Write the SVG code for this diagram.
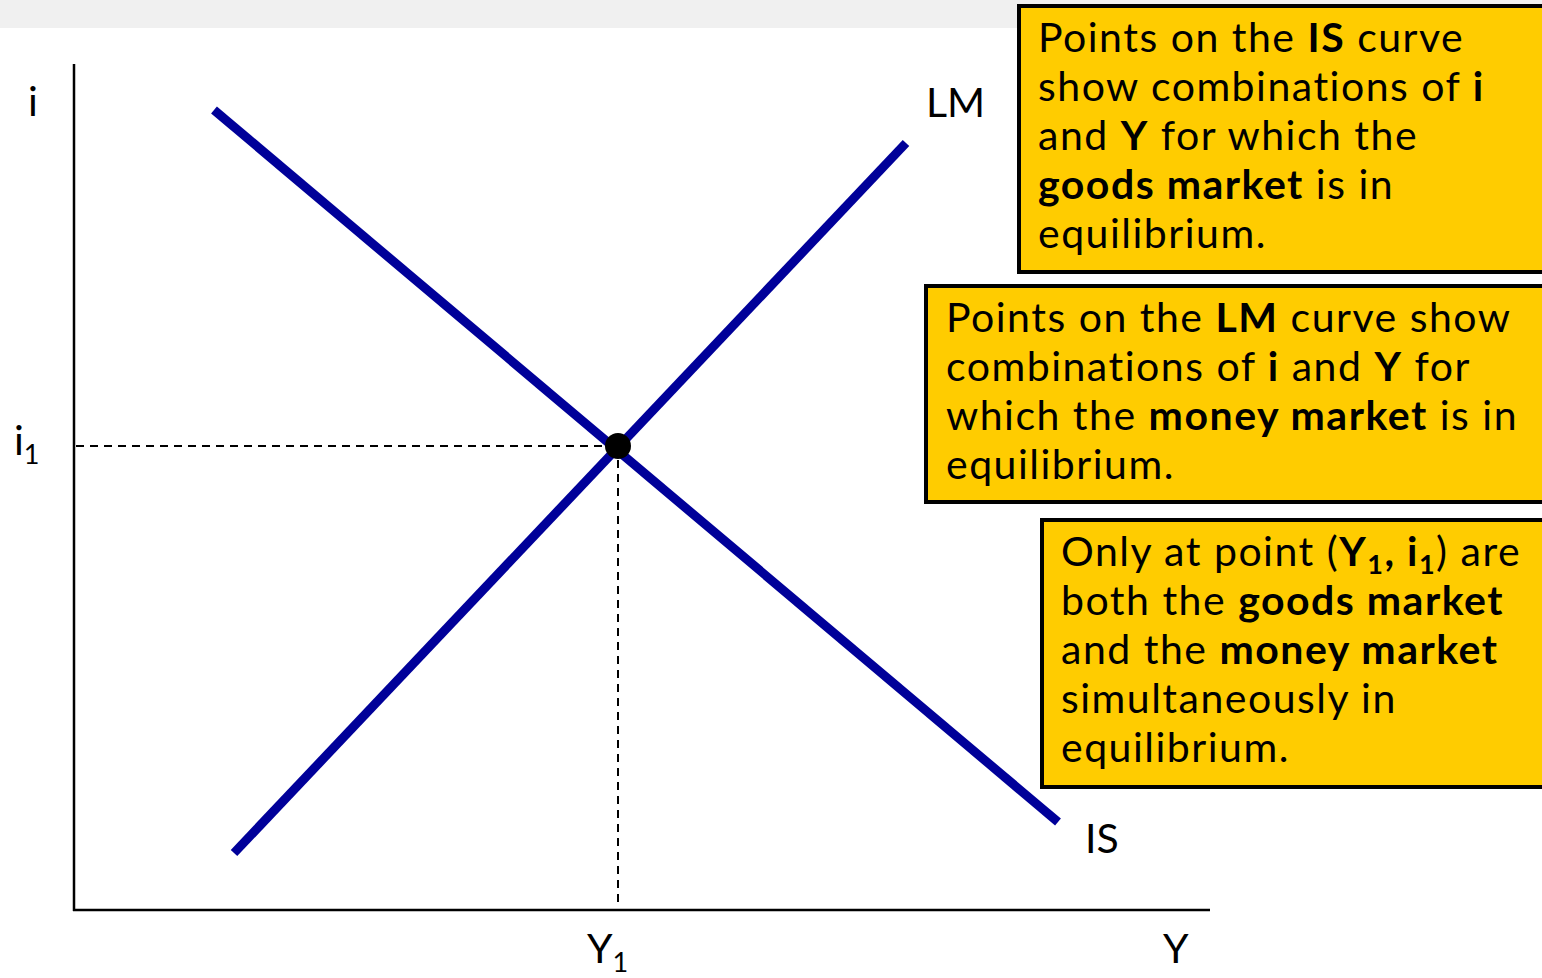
<svg xmlns="http://www.w3.org/2000/svg" width="1542" height="978" viewBox="0 0 1542 978">
<style>
.t{font-family:Lato,"Open Sans","Liberation Sans",sans-serif;font-size:41px;fill:#000}
.w{letter-spacing:1.5px}
.b{font-weight:bold}
.box{fill:#ffcc00;stroke:#000;stroke-width:4}
.curve{stroke:#000099;stroke-width:9;fill:none}
.axis{stroke:#000;stroke-width:2.5;fill:none}
.dash{stroke:#000;stroke-width:2;stroke-dasharray:8,6;fill:none}
</style>
<rect x="0" y="0" width="1542" height="978" fill="#fff"/>
<rect x="0" y="0" width="1542" height="28" fill="#f0f0f0"/>
<g id="axes">
<line class="axis" x1="74" y1="64" x2="74" y2="911"/>
<line class="axis" x1="73" y1="910" x2="1210" y2="910"/>
<text class="t" x="28" y="116">i</text>
<text class="t" x="1163" y="963">Y</text>
</g>
<g id="connectors">
<line class="dash" x1="76" y1="446" x2="618" y2="446"/>
<line class="dash" x1="618" y1="446" x2="618" y2="908"/>
</g>
<g id="is-curve">
<line class="curve" x1="214" y1="110" x2="1058" y2="822"/>
<text class="t" x="1085" y="853">IS</text>
</g>
<g id="lm-curve">
<line class="curve" x1="234" y1="853" x2="906" y2="143"/>
<text class="t" x="926" y="117">LM</text>
</g>
<g id="equilibrium">
<circle cx="618" cy="446" r="13" fill="#000"/>
<text class="t" x="14" y="455">i<tspan font-size="27" dy="9">1</tspan></text>
<text class="t" x="587" y="963">Y<tspan font-size="27" dy="9">1</tspan></text>
</g>
<g id="box-is">
<rect class="box" x="1019" y="6" width="530" height="266"/>
<text class="t w" x="1038" y="52">Points on the <tspan class="b">IS</tspan> curve</text>
<text class="t w" x="1038" y="101">show combinations of <tspan class="b">i</tspan></text>
<text class="t w" x="1038" y="150">and <tspan class="b">Y</tspan> for which the</text>
<text class="t w" x="1038" y="199"><tspan class="b">goods market</tspan> is in</text>
<text class="t w" x="1038" y="248">equilibrium.</text>
</g>
<g id="box-lm">
<rect class="box" x="926" y="286" width="623" height="216"/>
<text class="t w" x="946" y="332">Points on the <tspan class="b">LM</tspan> curve show</text>
<text class="t w" x="946" y="381">combinations of <tspan class="b">i</tspan> and <tspan class="b">Y</tspan> for</text>
<text class="t w" x="946" y="430">which the <tspan class="b">money market</tspan> is in</text>
<text class="t w" x="946" y="479">equilibrium.</text>
</g>
<g id="box-eq">
<rect class="box" x="1042" y="520" width="507" height="267"/>
<text class="t w" x="1061" y="566">Only at point (<tspan class="b">Y<tspan font-size="27" dy="8">1</tspan><tspan dy="-8">, i</tspan><tspan font-size="27" dy="8">1</tspan></tspan><tspan dy="-8">) are</tspan></text>
<text class="t w" x="1061" y="615">both the <tspan class="b">goods market</tspan></text>
<text class="t w" x="1061" y="664">and the <tspan class="b">money market</tspan></text>
<text class="t w" x="1061" y="713">simultaneously in</text>
<text class="t w" x="1061" y="762">equilibrium.</text>
</g>
</svg>
